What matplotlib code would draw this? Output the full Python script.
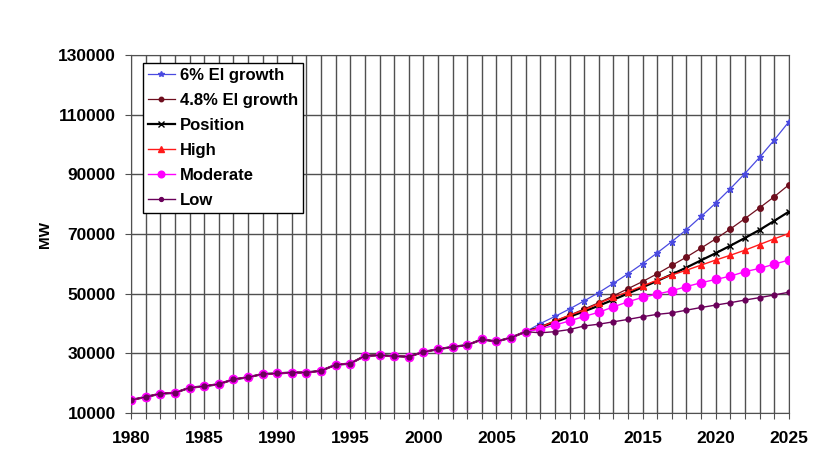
import matplotlib
matplotlib.use("Agg")
import matplotlib.pyplot as plt
import numpy as np

plt.rcParams['font.family'] = ['Liberation Sans', 'DejaVu Sans']
plt.rcParams['font.weight'] = 'bold'

# annual peak demand, MW
hist_years = list(range(1980, 2008))
hist_mw = [14400, 15400, 16500, 16800, 18500, 19000, 19700, 21300, 22000, 23100,
           23300, 23600, 23600, 24200, 26200, 26600, 29200, 29400, 29100, 28900,
           30500, 31400, 32200, 32800, 34700, 34000, 35300, 37300]

fc_years = list(range(2008, 2026))
ei_6 = [40000, 42400, 44900, 47600, 50400, 53500, 56700, 60100, 63700, 67500,
        71500, 75900, 80400, 85200, 90300, 95700, 101500, 107600]
ei_48 = [39000, 40900, 42800, 44900, 47000, 49300, 51700, 54100, 56700, 59500,
         62300, 65300, 68400, 71700, 75200, 78800, 82500, 86500]
position = [38700, 40500, 42300, 44100, 46000, 48000, 50100, 52200, 54300, 56500,
            58800, 61200, 63600, 66100, 68700, 71400, 74400, 77500]
high = [38700, 40900, 42800, 44500, 46800, 48800, 50700, 52600, 54600, 56300,
        57900, 59600, 61300, 62900, 64600, 66500, 68400, 70200]
moderate = [38200, 39500, 40900, 42400, 43800, 45600, 47300, 48800, 49900, 51000,
            52400, 53700, 54800, 55900, 57400, 58500, 59900, 61300]
low = [36900, 37300, 38000, 39200, 39800, 40600, 41400, 42300, 43100, 43600,
       44500, 45400, 46200, 47000, 47900, 48700, 49600, 50500]

series = [
    ("6% El growth", ei_6, dict(color='#4a4ae0', marker='*', ms=5, lw=0.9)),
    ("4.8% El growth", ei_48, dict(color='#6e0e1e', marker='o', ms=4, lw=0.9)),
    ("Position", position, dict(color='black', marker='x', ms=5, lw=1.6)),
    ("High", high, dict(color='#ff1a1a', marker='^', ms=5, lw=1.0)),
    ("Moderate", moderate, dict(color='#ff00ff', marker='o', ms=6, lw=1.0)),
    ("Low", low, dict(color='#6a005a', marker='o', ms=3.5, lw=1.0)),
]

fig = plt.figure(figsize=(8.14, 4.59), dpi=100)
ax = fig.add_axes([0.161, 0.100, 0.808, 0.780])

for name, vals, style in series:
    ax.plot(hist_years + fc_years, hist_mw + vals, label=name, zorder=3, **style)

ax.set_xlim(1980, 2025)
ax.set_ylim(10000, 130000)
ax.set_xticks(np.arange(1980, 2026, 1))
ax.set_xticklabels([str(y) if y % 5 == 0 else '' for y in range(1980, 2026)])
ax.set_yticks(np.arange(10000, 130001, 20000))
ax.grid(True, color='#505050', lw=1.0, zorder=0)
ax.tick_params(axis='both', labelsize=12.5, length=4, color='#505050')
ax.tick_params(axis='x', pad=9)
ax.tick_params(axis='y', pad=7)
for lab in ax.get_xticklabels() + ax.get_yticklabels():
    lab.set_fontweight('bold')
for sp in ax.spines.values():
    sp.set_color('#505050')

ax.set_ylabel("MW", fontsize=11, fontweight='bold', labelpad=4)

leg = ax.legend(loc='upper left', bbox_to_anchor=(0.018, 0.978), fontsize=12,
                frameon=True, fancybox=False, edgecolor='black', framealpha=1,
                handlelength=1.6, handletextpad=0.3, borderpad=0.3,
                labelspacing=0.6, borderaxespad=0, markerscale=0.8)
leg.get_frame().set_linewidth(1.0)
for t in leg.get_texts():
    t.set_fontweight('bold')

plt.savefig("out.png", dpi=100)
